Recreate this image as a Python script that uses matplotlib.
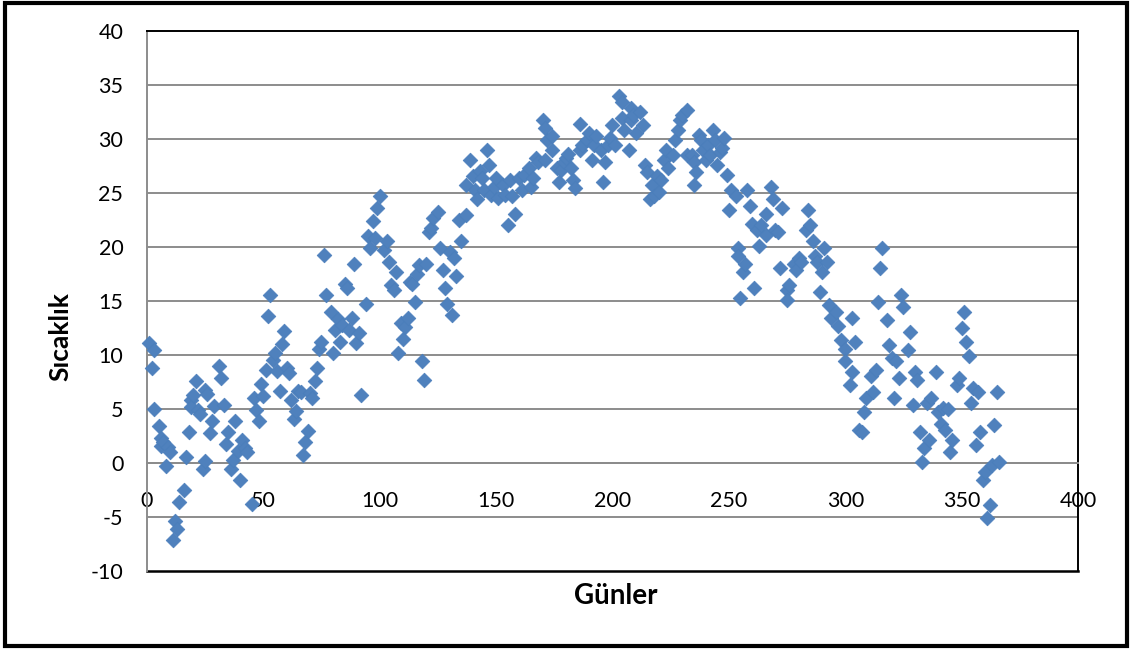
import matplotlib.pyplot as plt
from matplotlib.patches import Rectangle

# gunluk sicaklik olcumleri (gun, derece)
gunler = [
    1, 2, 3, 3, 5, 6, 6, 7, 8, 9, 10, 11, 12, 13, 14, 16, 17, 18, 19, 19,
    20, 21, 22, 23, 24, 25, 25, 26, 27, 28, 29, 31, 32, 33, 34, 35, 36, 37, 38, 39,
    40, 41, 42, 43, 45, 46, 47, 48, 49, 50, 51, 52, 53, 54, 55, 56, 57, 58, 59, 60,
    61, 62, 63, 64, 65, 66, 67, 68, 69, 70, 71, 72, 73, 74, 75, 76, 77, 79, 80, 81,
    82, 83, 84, 85, 86, 87, 88, 89, 90, 91, 92, 94, 95, 96, 97, 98, 99, 100, 102, 103,
    104, 105, 106, 107, 108, 109, 110, 111, 112, 113, 114, 115, 116, 117, 118, 119, 120, 121, 122, 123,
    125, 126, 127, 128, 129, 130, 131, 132, 133, 134, 135, 137, 137, 139, 140, 141, 142, 143, 144, 145,
    146, 147, 148, 149, 150, 151, 153, 154, 155, 156, 157, 158, 160, 161, 162, 164, 165, 166, 167, 168,
    170, 171, 171, 172, 174, 174, 176, 177, 178, 179, 180, 181, 182, 183, 184, 186, 186, 187, 189, 190,
    191, 192, 193, 195, 196, 197, 198, 199, 200, 201, 203, 204, 204, 205, 207, 208, 208, 209, 210, 212,
    213, 214, 215, 216, 217, 218, 219, 220, 221, 222, 223, 224, 226, 227, 228, 229, 230, 232, 232, 234,
    235, 235, 236, 237, 238, 239, 240, 241, 242, 243, 244, 245, 246, 247, 248, 249, 250, 251, 253, 254,
    254, 255, 256, 257, 258, 259, 260, 261, 262, 263, 264, 266, 266, 268, 269, 270, 271, 272, 273, 275,
    275, 276, 278, 279, 280, 281, 283, 284, 285, 286, 287, 288, 289, 290, 291, 292, 293, 294, 296, 297,
    298, 300, 300, 302, 303, 303, 304, 306, 307, 308, 309, 311, 312, 313, 314, 315, 316, 318, 319, 320,
    321, 322, 323, 324, 325, 327, 328, 329, 330, 331, 332, 333, 334, 335, 336, 337, 339, 340, 341, 342,
    343, 344, 345, 346, 348, 349, 350, 351, 352, 353, 354, 355, 356, 357, 358, 359, 360, 361, 362, 363,
    364, 365, 366,
]
sicaklik = [
    11.1, 8.8, 10.5, 5.0, 3.4, 2.3, 1.6, 1.9, -0.3, 1.5, 1.0, -7.1, -5.4, -6.1, -3.6, -2.5, 0.6, 2.9, 5.8, 5.2,
    6.3, 7.6, 4.9, 4.5, -0.6, 0.2, 6.8, 6.4, 2.8, 3.9, 5.3, 9.0, 7.9, 5.4, 1.8, 2.9, -0.6, 0.3, 3.9, 1.1,
    -1.6, 2.1, 1.4, 1.0, -3.8, 6.0, 4.9, 3.9, 7.3, 6.2, 8.6, 13.6, 15.6, 9.5, 10.2, 8.5, 6.7, 11.0, 12.2, 8.8,
    8.3, 5.8, 4.1, 4.8, 6.7, 6.6, 0.7, 1.9, 3.0, 6.5, 6.0, 7.6, 8.8, 10.6, 11.2, 19.3, 15.6, 14.0, 10.2, 12.3,
    13.3, 11.2, 12.8, 16.6, 16.2, 12.3, 13.4, 18.4, 11.1, 12.0, 6.3, 14.7, 21.0, 19.9, 22.4, 20.8, 23.6, 24.7, 19.7, 20.6,
    18.6, 16.5, 16.0, 17.7, 10.2, 13.0, 11.5, 12.6, 13.4, 16.8, 16.6, 14.9, 17.5, 18.3, 9.4, 7.7, 18.4, 21.4, 21.8, 22.7,
    23.2, 19.9, 17.9, 16.2, 14.7, 19.5, 13.7, 19.0, 17.3, 22.5, 20.6, 25.7, 23.0, 28.1, 26.6, 25.3, 24.4, 27.0, 26.4, 25.3,
    29.0, 27.6, 24.8, 25.6, 26.4, 24.5, 25.7, 24.8, 22.0, 26.2, 24.7, 23.1, 26.4, 25.3, 26.7, 27.3, 25.6, 26.4, 28.2, 27.9,
    31.8, 31.0, 28.1, 29.9, 29.0, 30.3, 27.3, 26.0, 27.1, 27.9, 28.2, 28.6, 27.3, 26.2, 25.5, 29.0, 31.4, 29.4, 29.9, 30.6,
    28.1, 29.4, 30.3, 29.0, 26.0, 27.9, 29.4, 30.1, 31.3, 29.4, 34.0, 33.4, 31.9, 30.8, 29.0, 31.8, 32.9, 32.2, 30.6, 32.5,
    31.3, 27.6, 26.9, 24.4, 25.7, 24.7, 26.6, 25.1, 26.2, 28.1, 29.0, 27.3, 28.5, 29.9, 30.8, 31.8, 32.2, 32.7, 28.5, 28.5,
    27.9, 25.7, 26.9, 30.4, 29.9, 29.0, 28.1, 29.4, 28.5, 30.8, 29.9, 27.6, 28.8, 29.2, 30.1, 26.7, 23.4, 25.3, 24.7, 19.9,
    19.2, 15.3, 17.7, 18.4, 25.3, 23.8, 22.1, 16.2, 21.6, 20.1, 22.0, 23.1, 21.1, 25.6, 24.4, 21.6, 21.4, 18.1, 23.6, 16.0,
    15.1, 16.5, 18.4, 17.9, 19.0, 18.6, 21.6, 23.4, 22.0, 20.6, 19.2, 18.6, 15.8, 17.7, 19.9, 18.6, 14.6, 13.4, 14.0, 12.7,
    11.4, 10.6, 9.4, 7.2, 8.4, 13.4, 11.2, 3.1, 2.9, 4.7, 6.0, 8.1, 6.6, 8.6, 14.9, 18.1, 19.9, 13.2, 10.9, 9.7,
    6.0, 9.4, 7.9, 15.6, 14.4, 10.5, 12.1, 5.4, 8.4, 7.7, 2.9, 0.1, 1.4, 5.6, 2.1, 6.0, 8.4, 4.7, 3.6, 5.1,
    3.1, 5.0, 1.0, 2.1, 7.2, 7.9, 12.5, 14.0, 11.2, 9.9, 5.6, 6.9, 1.7, 6.6, 2.9, -1.6, -0.8, -5.1, -3.9, -0.2,
    3.5, 6.6, 0.1,
]

x_ticks = list(range(0, 401, 50))
y_ticks = list(range(-10, 41, 5))

plt.rcParams['font.family'] = ['Lato', 'DejaVu Sans']

fig = plt.figure(figsize=(11.3, 6.51), dpi=100)
ax = fig.add_axes([0.130, 0.1229, 0.824, 0.8295])

grid_gray = '#8c8c8c'

ax.scatter(gunler, sicaklik, marker='D', s=56, color='#4F81BD',
           edgecolor='#4A7EBB', linewidth=0.5, zorder=3, clip_on=False)

ax.set_xlim(0, 400)
ax.set_ylim(-10, 40)
ax.set_xticks(x_ticks)
ax.set_yticks(y_ticks)
ax.set_yticklabels([str(v) for v in y_ticks])

# yatay izgara cizgileri
for v in y_ticks[1:-1]:
    ax.axhline(v, color=grid_gray, lw=1.4, zorder=1)

# x ekseni sifir cizgisinde
ax.spines['bottom'].set_position(('data', 0))
ax.spines['bottom'].set_color(grid_gray)
ax.spines['bottom'].set_linewidth(1.4)
ax.spines['left'].set_color(grid_gray)
ax.spines['left'].set_linewidth(1.4)
for side in ('top', 'right'):
    ax.spines[side].set_color('black')
    ax.spines[side].set_linewidth(1.4)
ax.axhline(-10, color='black', lw=1.8, zorder=2, clip_on=False)

ax.tick_params(axis='both', length=0, labelsize=15.5)
ax.tick_params(axis='x', pad=20)
ax.tick_params(axis='y', pad=17)

ax.set_xlabel('Günler', fontsize=20, fontweight='bold')
ax.xaxis.set_label_coords(0.503, -0.022)
ax.set_ylabel('Sıcaklık', fontsize=19, fontweight='bold')
ax.yaxis.set_label_coords(-0.080, 0.435)

# dis cerceve
fig.patches.append(Rectangle((0.004, 0.008), 0.993, 0.987, transform=fig.transFigure,
                             fill=False, edgecolor='black', linewidth=3))

fig.savefig('out.png', dpi=100)
